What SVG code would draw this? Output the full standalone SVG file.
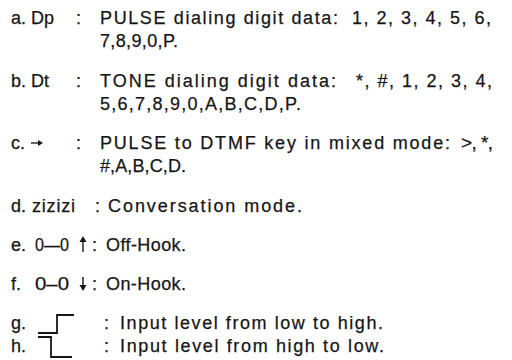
<svg xmlns="http://www.w3.org/2000/svg" width="512" height="360" viewBox="0 0 512 360">
<style>
text{font-family:"Liberation Sans",Arial,sans-serif;font-size:18px;fill:#161616;stroke:#161616;stroke-width:0.25}
.sym{stroke:#161616;stroke-width:1.8;fill:none}
.head{fill:#161616;stroke:none}
</style>
<rect width="512" height="360" fill="#fff"/>
<g id="item-a">
<text x="11" y="24">a.</text><text x="31" y="24">Dp</text><text x="76" y="24">:</text>
<text x="100" y="24" textLength="238" lengthAdjust="spacing">PULSE dialing digit data:</text>
<text x="352" y="24" textLength="139" lengthAdjust="spacing">1, 2, 3, 4, 5, 6,</text>
<text x="100" y="47" textLength="78" lengthAdjust="spacing">7,8,9,0,P.</text>
</g>
<g id="item-b">
<text x="11" y="87">b.</text><text x="31" y="87">Dt</text><text x="76" y="87">:</text>
<text x="100" y="87" textLength="236" lengthAdjust="spacing">TONE dialing digit data:</text>
<text x="356" y="87" textLength="136" lengthAdjust="spacing">*, #, 1, 2, 3, 4,</text>
<text x="100" y="110" textLength="201" lengthAdjust="spacing">5,6,7,8,9,0,A,B,C,D,P.</text>
</g>
<g id="item-c">
<text x="11" y="149">c.</text>
<path class="sym" d="M31 143H41" style="stroke-width:1.3"/>
<path class="head" d="M43 143L38 140V146Z"/>
<text x="76" y="149">:</text>
<text x="100" y="149" textLength="350" lengthAdjust="spacing">PULSE to DTMF key in mixed mode:</text>
<text x="461" y="149" textLength="32" lengthAdjust="spacing" style="font-size:19px">&gt;, *,</text>
<text x="100" y="172" textLength="86" lengthAdjust="spacing">#,A,B,C,D.</text>
</g>
<g id="item-d">
<text x="11" y="212">d.</text><text x="32" y="212" textLength="43" lengthAdjust="spacing">zizizi</text>
<text x="95" y="212">:</text>
<text x="108" y="212" textLength="194" lengthAdjust="spacing">Conversation mode.</text>
</g>
<g id="item-e">
<text x="11" y="251">e.</text><text x="35" y="251" textLength="34" lengthAdjust="spacingAndGlyphs">0—0</text>
<path class="sym" d="M83 252V240" style="stroke-width:1.4"/>
<path class="head" d="M83 236L79.5 242H86.5Z"/>
<text x="92" y="251">:</text>
<text x="106" y="251" textLength="80" lengthAdjust="spacing">Off-Hook.</text>
</g>
<g id="item-f">
<text x="11" y="290">f.</text><text x="35" y="290" textLength="34" lengthAdjust="spacingAndGlyphs">0–0</text>
<path class="sym" d="M83 277V287" style="stroke-width:1.4"/>
<path class="head" d="M83 291L79.5 285H86.5Z"/>
<text x="92" y="290">:</text>
<text x="106" y="290" textLength="80" lengthAdjust="spacing">On-Hook.</text>
</g>
<g id="item-g">
<text x="11" y="329">g.</text>
<path class="sym" d="M38 333H57V315H74"/>
<text x="104" y="329">:</text>
<text x="120" y="329" textLength="263" lengthAdjust="spacing">Input level from low to high.</text>
</g>
<g id="item-h">
<text x="11" y="352">h.</text>
<path class="sym" d="M38 337H51V357H72"/>
<text x="104" y="352">:</text>
<text x="120" y="352" textLength="264" lengthAdjust="spacing">Input level from high to low.</text>
</g>
</svg>
